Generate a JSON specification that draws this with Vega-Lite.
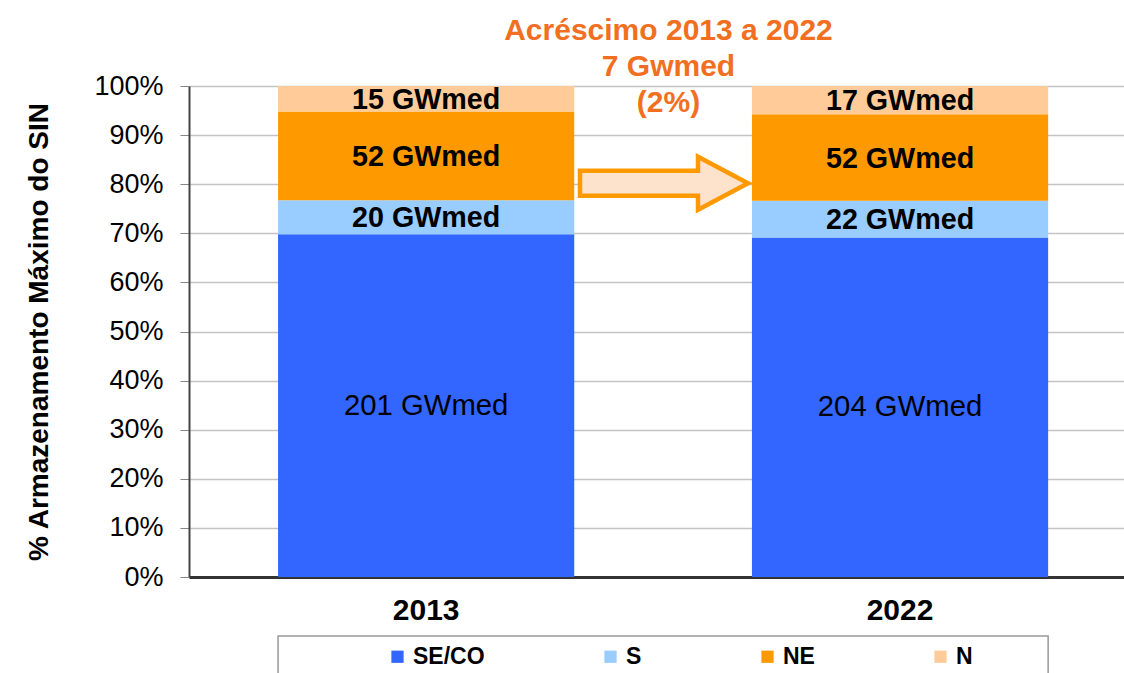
{
  "$schema": "https://vega.github.io/schema/vega-lite/v6.json",
  "autosize": "none",
  "width": 935,
  "height": 491,
  "padding": {"left": 189, "top": 86, "right": 0, "bottom": 96},
  "background": "white",
  "config": {
    "font": "Liberation Sans",
    "view": {"stroke": null}
  },
  "title": {
    "text": ["Acréscimo 2013 a 2022", "7 Gwmed", "(2%)"],
    "fontSize": 30,
    "fontWeight": "bold",
    "lineHeight": 36,
    "color": "#F26F21",
    "anchor": "middle",
    "baseline": "bottom",
    "dx": 12,
    "offset": -76
  },
  "data": {
    "values": [
      {"year": "2013", "region": "SE/CO", "value": 201},
      {"year": "2013", "region": "S", "value": 20},
      {"year": "2013", "region": "NE", "value": 52},
      {"year": "2013", "region": "N", "value": 15},
      {"year": "2022", "region": "SE/CO", "value": 204},
      {"year": "2022", "region": "S", "value": 22},
      {"year": "2022", "region": "NE", "value": 52},
      {"year": "2022", "region": "N", "value": 17}
    ]
  },
  "encoding": {
    "x": {
      "field": "year",
      "type": "nominal",
      "scale": {"domain": ["2013", "2022"], "paddingInner": 0.375, "paddingOuter": 0.174, "align": 0.54},
      "axis": {
        "title": null,
        "labelAngle": 0,
        "labelFontSize": 30,
        "labelFontWeight": "bold",
        "labelColor": "black",
        "labelPadding": 18,
        "ticks": false,
        "domainColor": "#333333",
        "domainWidth": 3
      }
    }
  },
  "layer": [
    {
      "mark": {"type": "bar", "stroke": null},
      "encoding": {
        "y": {
          "field": "value",
          "type": "quantitative",
          "stack": "normalize",
          "scale": {"domain": [0, 1]},
          "axis": {
            "title": "% Armazenamento Máximo do SIN",
            "titleFontSize": 28,
            "titleFontWeight": "bold",
            "titleColor": "black",
            "titlePadding": 40,
            "format": ".0%",
            "values": [0, 0.1, 0.2, 0.3, 0.4, 0.5, 0.6, 0.7, 0.8, 0.9, 1],
            "labelFontSize": 27,
            "labelColor": "black",
            "labelPadding": 17,
            "tickSize": 9,
            "tickColor": "#888888",
            "domainColor": "#444444",
            "domainWidth": 2,
            "grid": true,
            "gridColor": "#c4c4c4",
            "gridWidth": 1.5
          }
        },
        "color": {
          "field": "region",
          "type": "nominal",
          "sort": ["SE/CO", "S", "NE", "N"],
          "scale": {"domain": ["SE/CO", "S", "NE", "N"], "range": ["#3366FF", "#99CCFF", "#FF9900", "#FFCC99"]},
          "legend": {
            "title": null,
            "orient": "none",
            "legendX": 197,
            "legendY": 559,
            "direction": "horizontal",
            "columns": 4,
            "columnPadding": 114,
            "symbolType": "square",
            "symbolSize": 150,
            "symbolStrokeWidth": 0,
            "labelFontSize": 23,
            "labelFontWeight": "bold",
            "labelColor": "black",
            "labelOffset": 4,
            "padding": 0
          }
        }
      }
    },
    {
      "transform": [
        {"calculate": "indexof(['SE/CO','S','NE','N'], datum.region)", "as": "ord"},
        {"stack": "value", "groupby": ["year"], "sort": [{"field": "ord"}], "offset": "normalize", "as": ["v0", "v1"]},
        {"calculate": "(datum.v0 + datum.v1) / 2", "as": "mid"},
        {"calculate": "datum.value + ' GWmed'", "as": "label"},
        {"filter": "datum.region != 'SE/CO'"}
      ],
      "mark": {"type": "text", "fontSize": 28.7, "fontWeight": "bold", "color": "black", "baseline": "middle", "dy": 1},
      "encoding": {
        "y": {"field": "mid", "type": "quantitative"},
        "text": {"field": "label"}
      }
    },
    {
      "transform": [
        {"calculate": "indexof(['SE/CO','S','NE','N'], datum.region)", "as": "ord"},
        {"stack": "value", "groupby": ["year"], "sort": [{"field": "ord"}], "offset": "normalize", "as": ["v0", "v1"]},
        {"calculate": "(datum.v0 + datum.v1) / 2", "as": "mid"},
        {"calculate": "datum.value + ' GWmed'", "as": "label"},
        {"filter": "datum.region == 'SE/CO'"}
      ],
      "mark": {"type": "text", "fontSize": 29.3, "fontWeight": "normal", "color": "black", "baseline": "middle"},
      "encoding": {
        "y": {"field": "mid", "type": "quantitative"},
        "text": {"field": "label"}
      }
    },
    {
      "data": {"values": [{"k": 1}]},
      "mark": {
        "type": "point",
        "shape": "M -1 -0.149 L 0.405 -0.149 L 0.405 -0.315 L 1 0 L 0.405 0.315 L 0.405 0.149 L -1 0.149 Z",
        "size": 28224,
        "filled": true,
        "fill": "#FDE3CC",
        "stroke": "#FF9900",
        "strokeWidth": 4.5,
        "opacity": 1
      },
      "encoding": {
        "x": {"datum": "2013", "bandPosition": 1.303},
        "y": {"datum": 0.802, "type": "quantitative"}
      }
    },
    {
      "data": {"values": [{"k": 1}]},
      "mark": {"type": "rect", "fill": "white", "fillOpacity": 0, "stroke": "#999999", "strokeWidth": 1.5, "clip": false},
      "encoding": {
        "x": {"datum": "2013", "bandPosition": 0},
        "x2": {"datum": "2022", "bandPosition": 1},
        "y": {"datum": -0.12, "type": "quantitative"},
        "y2": {"datum": -0.25}
      }
    }
  ]
}
